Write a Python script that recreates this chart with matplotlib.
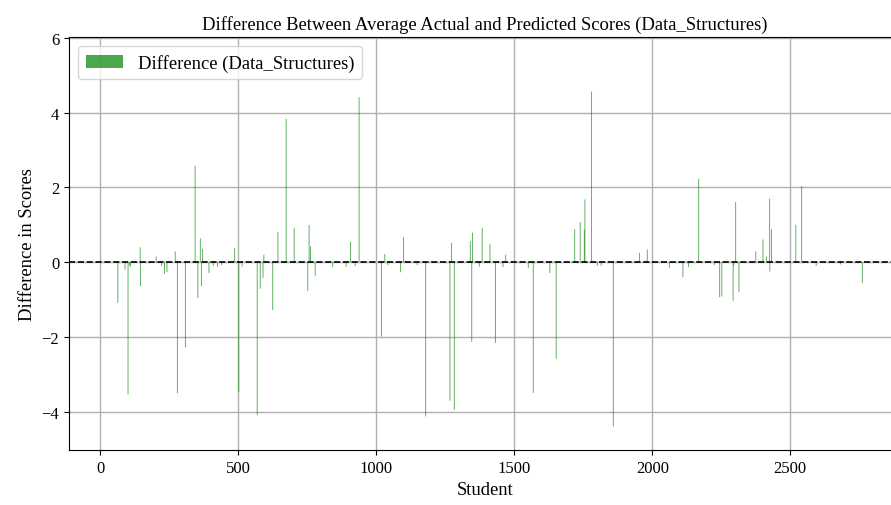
import numpy as np
import matplotlib.pyplot as plt

plt.rcParams['font.family'] = ['Liberation Serif', 'DejaVu Serif']
plt.rcParams['font.size'] = 12

# students with a non-zero difference
students = [64, 90, 101, 106, 110, 145, 146, 203, 222, 233, 242, 272, 280, 309,
            344, 354, 363, 367, 371, 394, 410, 425, 440, 487, 502, 514, 569, 580,
            590, 593, 625, 644, 674, 703, 752, 757, 762, 779, 842, 891, 907, 924,
            938, 1019, 1031, 1042, 1088, 1099, 1149, 1179, 1267, 1273, 1283, 1341,
            1346, 1349, 1374, 1384, 1412, 1432, 1459, 1469, 1551, 1569, 1629, 1652,
            1719, 1739, 1754, 1756, 1780, 1801, 1815, 1859, 1954, 1982, 2062, 2111,
            2131, 2168, 2225, 2244, 2252, 2293, 2295, 2302, 2314, 2375, 2401, 2414,
            2425, 2426, 2432, 2520, 2541, 2594, 2682, 2761]
diffs = [-1.09, -0.20, -3.54, -0.10, -0.12, 0.40, -0.64, 0.15, -0.10, -0.31, -0.27,
         0.29, -3.51, -2.28, 2.58, -0.96, 0.64, -0.64, 0.36, -0.29, -0.10, -0.12,
         -0.08, 0.38, -3.48, -0.12, -4.10, -0.71, -0.42, 0.20, -1.28, 0.81, 3.84,
         0.92, -0.77, 1.00, 0.42, -0.36, -0.13, -0.13, 0.55, -0.10, 4.42, -1.99,
         0.22, -0.08, -0.27, 0.67, -0.08, -4.13, -3.71, 0.52, -3.95, 0.56, -2.13,
         0.79, -0.12, 0.92, 0.49, -2.16, -0.13, 0.20, -0.16, -3.50, -0.29, -2.59,
         0.88, 1.08, 0.87, 1.68, 4.57, -0.10, -0.10, -4.40, 0.25, 0.34, -0.15,
         -0.40, -0.13, 2.23, -0.08, -0.94, -0.92, -1.03, -0.10, 1.61, -0.80, 0.29,
         0.61, 0.15, 1.70, -0.25, 0.88, 1.00, 2.04, -0.10, -0.06, -0.55]
subject = 'Data_Structures'

fig = plt.figure(figsize=(8.91, 5.06), dpi=100)
ax = fig.add_axes([0.0774, 0.1087, 0.9338, 0.8162])

bars = ax.bar(students, diffs, width=3.6, color='green', alpha=0.6,
              linewidth=0, label=f'Difference ({subject})')
for b in bars:
    b.set_snap(False)
ax.axhline(0, color='black', linestyle='--', linewidth=1.2)

ax.set_xlim(-113, 2901)
ax.set_ylim(-5.03, 6.03)
ax.set_xticks([0, 500, 1000, 1500, 2000, 2500])
ax.set_yticks([-4, -2, 0, 2, 4, 6])
ax.grid(True, color='#b0b0b0', linewidth=1.0)
ax.set_axisbelow(True)

ax.set_title(f'Difference Between Average Actual and Predicted Scores ({subject})',
             fontsize=13.4)
ax.set_xlabel('Student', fontsize=13.4)
ax.set_ylabel('Difference in Scores', fontsize=13.4)
leg = ax.legend(loc='upper left', fontsize=13.4)
leg.legend_handles[0].set_alpha(0.7)

fig.savefig('out.png', dpi=100)
